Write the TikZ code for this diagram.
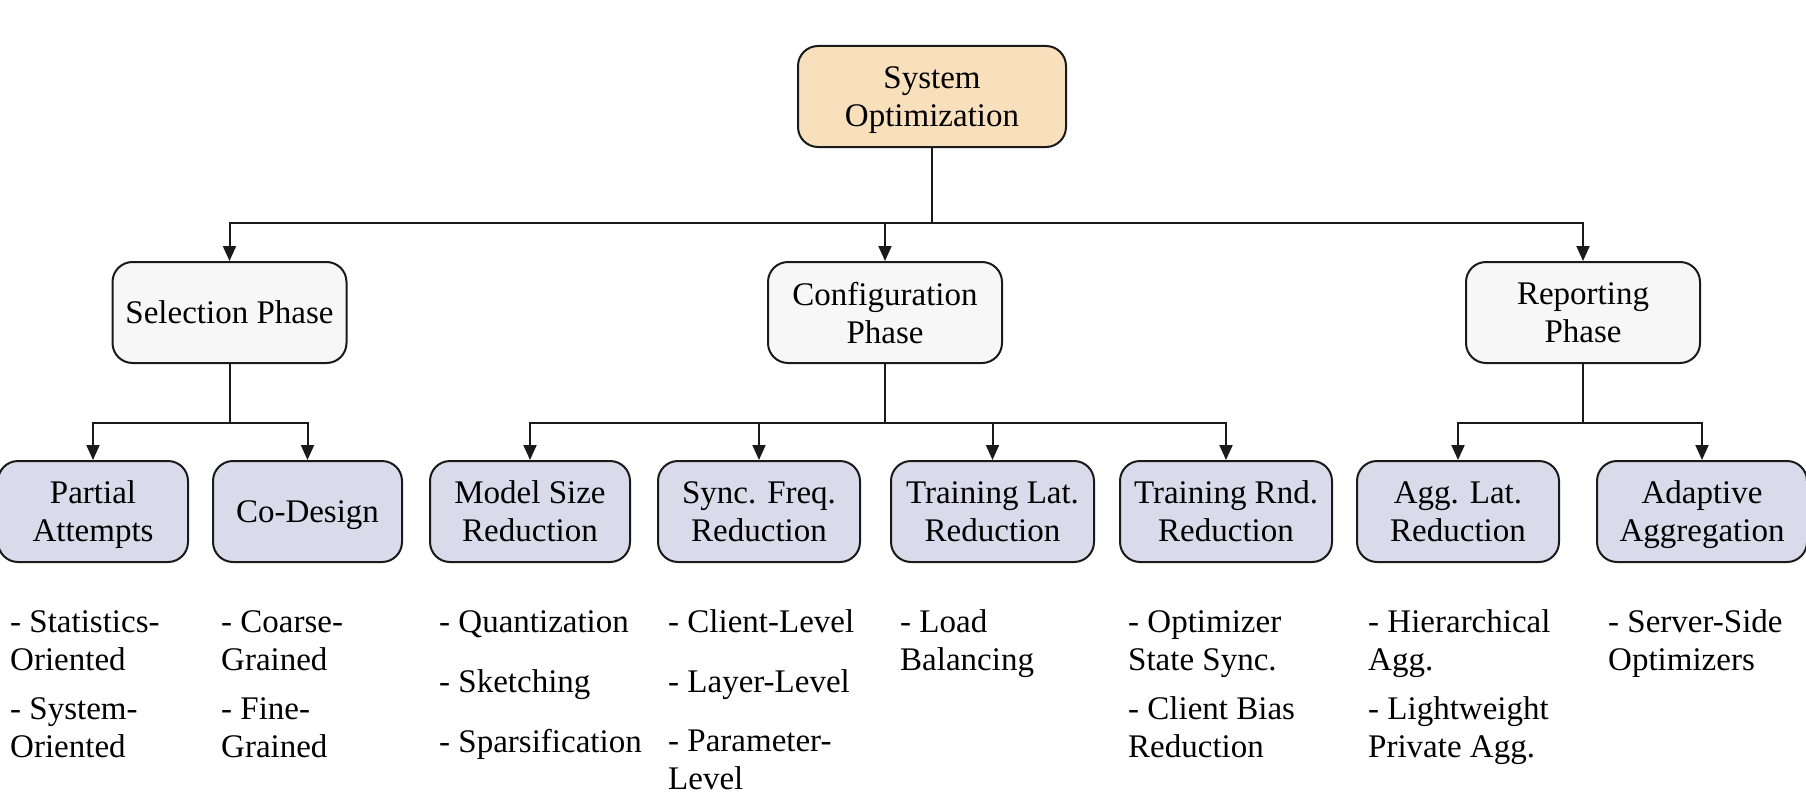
\documentclass[tikz,border=0pt]{standalone}
\usepackage{fontspec}
\setmainfont{Liberation Serif}
\usetikzlibrary{arrows.meta}
\definecolor{rootfill}{HTML}{F9E0BD}
\definecolor{phasefill}{HTML}{F7F7F7}
\definecolor{leaffill}{HTML}{D9DAEA}
\definecolor{edgecol}{HTML}{1A1A1A}
\begin{document}
\begin{tikzpicture}[x=1pt,y=-1pt,
  boxbase/.style={draw=edgecol,line width=2pt,rounded corners=20pt,align=center,
    inner sep=0pt,font=\fontsize{33}{38}\selectfont,minimum height=101pt,text depth=0pt},
  rootbox/.style={boxbase,fill=rootfill},
  phasebox/.style={boxbase,fill=phasefill,minimum width=234pt},
  leafbox/.style={boxbase,fill=leaffill},
  desc/.style={anchor=base west,inner sep=0pt,font=\fontsize{33}{38}\selectfont},
  conn/.style={draw=edgecol,line width=2pt},
  arr/.style={conn,-{Triangle[length=15pt,width=13pt]}}
]
\useasboundingbox (0,0) rectangle (1806,800);

\node[rootbox,minimum width=268pt] (root) at (932,96.5) {System\\Optimization};

\node[phasebox] (sel) at (229.5,312.5) {Selection Phase};
\node[phasebox] (conf) at (885,312.5) {Configuration\\Phase};
\node[phasebox] (rep) at (1583,312.5) {Reporting\\Phase};

\node[leafbox,minimum width=190pt] (pa) at (93,511.5) {Partial\\Attempts};
\node[leafbox,minimum width=189pt] (cd) at (307.5,511.5) {Co-Design};
\node[leafbox,minimum width=200pt] (ms) at (530,511.5) {Model Size\\Reduction};
\node[leafbox,minimum width=202pt] (sf) at (759,511.5) {Sync. Freq.\\Reduction};
\node[leafbox,minimum width=203pt] (tl) at (992.5,511.5) {Training Lat.\\Reduction};
\node[leafbox,minimum width=212pt] (tr) at (1226,511.5) {Training Rnd.\\Reduction};
\node[leafbox,minimum width=202pt] (al) at (1458,511.5) {Agg. Lat.\\Reduction};
\node[leafbox,minimum width=210pt] (aa) at (1702,511.5) {Adaptive\\Aggregation};

\coordinate (bar1) at (0,223);
\coordinate (bar2) at (0,423);

\draw[conn] (root.south) -- (root.south |- bar1);
\draw[arr] (root.south |- bar1) -| (sel.north);
\draw[arr] (root.south |- bar1) -| (rep.north);
\draw[arr] (conf.north |- bar1) -- (conf.north);

\draw[conn] (sel.south) -- (sel.south |- bar2);
\draw[arr] (sel.south |- bar2) -| (pa.north);
\draw[arr] (sel.south |- bar2) -| (cd.north);

\draw[conn] (conf.south) -- (conf.south |- bar2);
\draw[arr] (conf.south |- bar2) -| (ms.north);
\draw[arr] (conf.south |- bar2) -| (tr.north);
\draw[arr] (sf.north |- bar2) -- (sf.north);
\draw[arr] (tl.north |- bar2) -- (tl.north);

\draw[conn] (rep.south) -- (rep.south |- bar2);
\draw[arr] (rep.south |- bar2) -| (al.north);
\draw[arr] (rep.south |- bar2) -| (aa.north);

% descriptions
\node[desc] (pa1) at (10,632) {- Statistics-};
\node[desc] (pa2) at (10,670) {Oriented};
\node[desc] (pa3) at (10,719) {- System-};
\node[desc] (pa4) at (10,757) {Oriented};

\node[desc] (cd1) at (221,632) {- Coarse-};
\node[desc] (cd2) at (221,670) {Grained};
\node[desc] (cd3) at (221,719) {- Fine-};
\node[desc] (cd4) at (221,757) {Grained};

\node[desc] (ms1) at (439,632) {- Quantization};
\node[desc] (ms2) at (439,692) {- Sketching};
\node[desc] (ms3) at (439,752) {- Sparsification};

\node[desc] (sf1) at (668,632) {- Client-Level};
\node[desc] (sf2) at (668,692) {- Layer-Level};
\node[desc] (sf3) at (668,751) {- Parameter-};
\node[desc] (sf4) at (668,789) {Level};

\node[desc] (tl1) at (900,632) {- Load};
\node[desc] (tl2) at (900,670) {Balancing};

\node[desc] (tr1) at (1128,632) {- Optimizer};
\node[desc] (tr2) at (1128,670) {State Sync.};
\node[desc] (tr3) at (1128,719) {- Client Bias};
\node[desc] (tr4) at (1128,757) {Reduction};

\node[desc] (al1) at (1368,632) {- Hierarchical};
\node[desc] (al2) at (1368,670) {Agg.};
\node[desc] (al3) at (1368,719) {- Lightweight};
\node[desc] (al4) at (1368,757) {Private Agg.};

\node[desc] (aa1) at (1608,632) {- Server-Side};
\node[desc] (aa2) at (1608,670) {Optimizers};
\end{tikzpicture}
\end{document}
